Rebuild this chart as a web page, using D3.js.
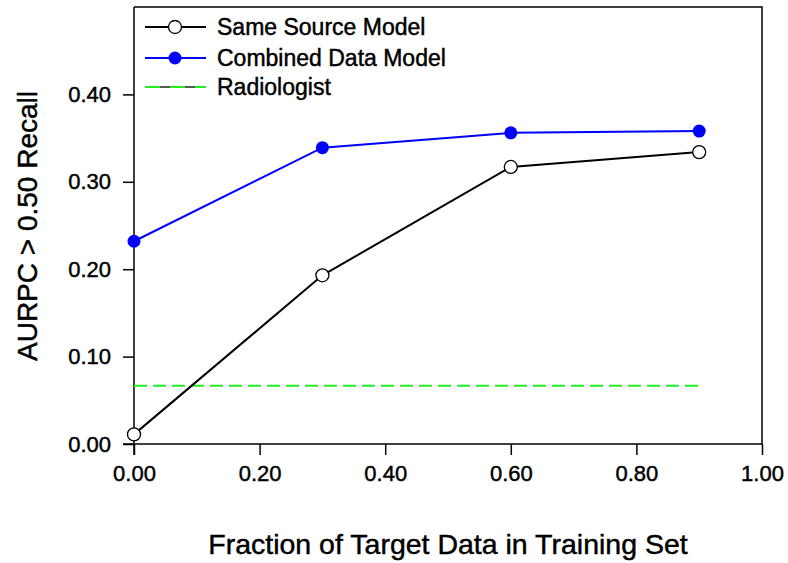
<!DOCTYPE html>
<html>
<head>
<meta charset="utf-8">
<script src="https://cdn.jsdelivr.net/npm/d3@7"></script>
<style>
  body { margin: 0; background: #fff; }
  svg text { font-family: "Liberation Sans", Arial, sans-serif; fill: #000; stroke: #000; stroke-width: 0.45px; }
</style>
</head>
<body>
<div id="chart"></div>
<script>
// data
const fractions = [0.0, 0.3, 0.6, 0.9];
const sameSource = [0.011, 0.193, 0.317, 0.334];
const combined = [0.232, 0.339, 0.356, 0.358];
const radiologist = 0.0667;
const radiologistSpan = [0.0, 0.9];
const xTicks = [0, 0.2, 0.4, 0.6, 0.8, 1.0];
const yTicks = [0, 0.1, 0.2, 0.3, 0.4];
const seriesNames = ["Same Source Model", "Combined Data Model", "Radiologist"];

const W = 788, H = 563;
const margin = {top: 7, right: 26, bottom: 119, left: 134};

const svg = d3.select("#chart").append("svg")
  .attr("width", W)
  .attr("height", H);

const x = d3.scaleLinear().domain([0, 1]).range([margin.left, W - margin.right]);
const y = d3.scaleLinear().domain([0, 0.5]).range([H - margin.bottom, margin.top]);

// frame (top and right sides)
svg.append("path")
  .attr("d", `M${x(0)},${y(0.5)}H${x(1)}V${y(0)}`)
  .attr("fill", "none")
  .attr("stroke", "#000")
  .attr("stroke-width", 1.5);

// axes
const xAxis = svg.append("g")
  .attr("transform", `translate(0,${y(0)})`)
  .call(d3.axisBottom(x).tickValues(xTicks).tickFormat(d3.format(".2f")).tickSize(11).tickPadding(10));
const yAxis = svg.append("g")
  .attr("transform", `translate(${x(0)},0)`)
  .call(d3.axisLeft(y).tickValues(yTicks).tickFormat(d3.format(".2f")).tickSize(11).tickPadding(12));

[xAxis, yAxis].forEach(g => {
  g.select(".domain").attr("stroke-width", 1.5);
  g.selectAll(".tick line").attr("stroke-width", 1.5);
  g.selectAll("text").style("font-size", "22px").attr("fill", "#000");
});
xAxis.select(".domain").attr("d", `M${x(0) - 11},0H${x(1)}`);
yAxis.select(".domain").attr("d", `M0,${y(0) + 11}V${y(0.5)}`);

// radiologist line
svg.append("line")
  .attr("x1", x(radiologistSpan[0]))
  .attr("x2", x(radiologistSpan[1]))
  .attr("y1", y(radiologist))
  .attr("y2", y(radiologist))
  .attr("stroke", "#22ee22")
  .attr("stroke-width", 2)
  .attr("stroke-dasharray", "13,6");

const line = d3.line()
  .x((d, i) => x(fractions[i]))
  .y(d => y(d));

// same source model
svg.append("path")
  .datum(sameSource)
  .attr("d", line)
  .attr("fill", "none")
  .attr("stroke", "#000")
  .attr("stroke-width", 2);

// combined data model
svg.append("path")
  .datum(combined)
  .attr("d", line)
  .attr("fill", "none")
  .attr("stroke", "#0000ff")
  .attr("stroke-width", 2);

svg.append("g")
  .selectAll("circle")
  .data(combined)
  .enter()
  .append("circle")
    .attr("cx", (d, i) => x(fractions[i]))
    .attr("cy", d => y(d))
    .attr("r", 6.5)
    .attr("fill", "#0000ff");

svg.append("g")
  .selectAll("circle")
  .data(sameSource)
  .enter()
  .append("circle")
    .attr("cx", (d, i) => x(fractions[i]))
    .attr("cy", d => y(d))
    .attr("r", 6.5)
    .attr("fill", "#fff")
    .attr("stroke", "#000")
    .attr("stroke-width", 1.3);

// legend
const legend = svg.append("g");
const legY = [27, 58, 87];
const lx0 = 145, lx1 = 206, lmid = 175;

legend.append("line")
  .attr("x1", lx0).attr("x2", lx1).attr("y1", legY[0]).attr("y2", legY[0])
  .attr("stroke", "#000").attr("stroke-width", 2);
legend.append("circle")
  .attr("cx", lmid).attr("cy", legY[0]).attr("r", 6.5)
  .attr("fill", "#fff").attr("stroke", "#000").attr("stroke-width", 1.3);

legend.append("line")
  .attr("x1", lx0).attr("x2", lx1).attr("y1", legY[1]).attr("y2", legY[1])
  .attr("stroke", "#0000ff").attr("stroke-width", 2);
legend.append("circle")
  .attr("cx", lmid).attr("cy", legY[1]).attr("r", 6.5)
  .attr("fill", "#0000ff");

legend.append("line")
  .attr("x1", lx0).attr("x2", lx1).attr("y1", legY[2]).attr("y2", legY[2])
  .attr("stroke", "#222").attr("stroke-width", 1.5);
legend.append("line")
  .attr("x1", lx0).attr("x2", lx1).attr("y1", legY[2]).attr("y2", legY[2])
  .attr("stroke", "#22ee22").attr("stroke-width", 2.2)
  .attr("stroke-dasharray", "15,10");

legend.selectAll("text")
  .data(seriesNames)
  .enter()
  .append("text")
    .attr("x", 217)
    .attr("y", (d, i) => legY[i])
    .attr("dy", "0.36em")
    .style("font-size", "23px")
    .text(d => d);

// axis titles
svg.append("text")
  .attr("x", (x(0) + x(1)) / 2)
  .attr("y", 554)
  .attr("text-anchor", "middle")
  .style("font-size", "28.5px")
  .text("Fraction of Target Data in Training Set");

svg.append("text")
  .attr("transform", `translate(37,${226}) rotate(-90)`)
  .attr("text-anchor", "middle")
  .style("font-size", "28px")
  .text("AURPC > 0.50 Recall");
</script>
</body>
</html>
